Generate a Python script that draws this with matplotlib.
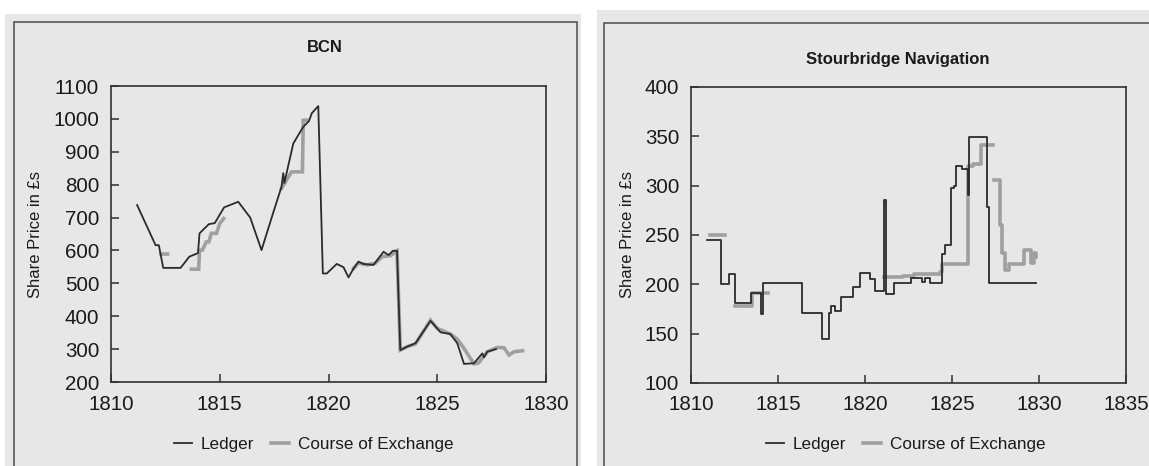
import numpy as np
import matplotlib
matplotlib.use("Agg")
import matplotlib.pyplot as plt
from matplotlib.patches import Rectangle
from matplotlib.lines import Line2D

nan = np.nan

# ---------------- BCN data ----------------
bcn_ledger_years = [1811.2, 1812.05, 1812.2, 1812.4, 1813.2, 1813.6, 1814.0, 1814.07,
                    1814.5, 1814.77, 1815.2, 1815.85, 1816.4, 1816.92, 1817.46, 1817.84,
                    1817.92, 1817.97, 1818.38, 1818.84, 1819.1, 1819.23, 1819.53, 1819.74,
                    1819.92, 1820.38, 1820.69, 1820.92, 1821.15, 1821.38, 1821.6, 1822.07,
                    1822.53, 1822.76, 1822.96, 1823.15, 1823.3, 1823.6, 1824.0, 1824.69,
                    1825.15, 1825.6, 1825.92, 1826.23, 1826.69, 1827.07, 1827.15, 1827.3,
                    1827.7]
bcn_ledger_values = [738, 616, 616, 547, 547, 581, 592, 652,
                     680, 683, 731, 748, 700, 601, 715, 794,
                     835, 805, 925, 976, 993, 1017, 1039, 530,
                     530, 559, 549, 518, 545, 566, 559, 556,
                     596, 586, 599, 599, 297, 307, 318, 386,
                     351, 346, 318, 255, 257, 287, 275, 292,
                     300]

bcn_course_years = [1812.3, 1812.6, nan,
                    1813.7, 1814.03, 1814.07, 1814.2, 1814.38, 1814.5, 1814.61, 1814.85,
                    1815.0, 1815.18, nan,
                    1817.84, 1818.07, 1818.3, 1818.8, 1818.84, 1819.0, nan,
                    1821.15, 1821.38, 1821.77, 1822.15, 1822.46, 1822.84, 1823.15, 1823.3,
                    1823.6, 1824.0, 1824.69, 1825.0, 1825.6, 1825.92, 1826.2, 1826.69,
                    1826.9, 1827.3, 1827.76, 1828.07, 1828.3, 1828.53, 1828.92]
bcn_course_values = [589, 589, nan,
                     543, 543, 601, 601, 626, 626, 652, 652,
                     682, 697, nan,
                     789, 814, 839, 839, 996, 996, nan,
                     545, 562, 556, 561, 581, 584, 599, 297,
                     307, 316, 388, 363, 346, 330, 305, 255,
                     258, 292, 305, 304, 282, 292, 295]

# ---------------- Stourbridge data (step changes) ----------------
stour_ledger_years = [1810.9, 1811.75, 1812.2, 1812.52, 1813.47, 1814.02, 1814.12, 1816.36,
                      1817.5, 1817.92, 1818.05, 1818.3, 1818.6, 1819.3, 1819.72, 1820.28,
                      1820.6, 1821.08, 1821.2, 1821.68, 1822.66, 1823.3, 1823.45, 1823.72,
                      1824.4, 1824.6, 1824.95, 1825.1, 1825.25, 1825.6, 1825.9, 1826.0,
                      1827.0, 1827.15, 1829.85]
stour_ledger_values = [245, 200, 210, 181, 191, 170, 201, 171,
                       145, 171, 178, 173, 187, 197, 211, 205,
                       193, 285, 190, 201, 206, 202, 206, 201,
                       231, 240, 298, 300, 320, 317, 291, 349,
                       278, 201, 201]

stour_course_years = [1811.1, 1811.96,
                      1812.54, 1813.53, 1814.45,
                      1821.1, 1822.2, 1822.8, 1823.6, 1824.3, 1824.45, 1825.93, 1826.2,
                      1826.66, 1827.37,
                      1827.43, 1827.78, 1827.9, 1828.05, 1828.3, 1829.15, 1829.55, 1829.7,
                      1829.85]
stour_course_values = [250, nan,
                       178, 191, nan,
                       207, 208, 210, 210, 212, 221, 320, 322,
                       341, nan,
                       306, 260, 232, 215, 221, 235, 222, 232,
                       228]

# ---------------- style ----------------
W, H = 1149, 466
plt.rcParams['font.family'] = ['Liberation Sans', 'DejaVu Sans']
PAPER = '#e7e7e7'
FRAME = '#4a4a4a'
LEDGER_C = '#2b2b2b'
COURSE_C = '#a0a0a0'

fig = plt.figure(figsize=(W / 100, H / 100), dpi=100)
fig.patch.set_facecolor('white')


def fx(px):
    return px / W


def fy(py):
    return 1 - py / H


# paper panels and chart frames (drawn beneath the axes)
fig.patches.append(Rectangle((fx(5), fy(470)), fx(581) - fx(5), fy(14) - fy(470),
                             transform=fig.transFigure, facecolor=PAPER, edgecolor='none', zorder=-3))
fig.patches.append(Rectangle((fx(597), fy(470)), fx(1152) - fx(597), fy(10) - fy(470),
                             transform=fig.transFigure, facecolor=PAPER, edgecolor='none', zorder=-3))
fig.patches.append(Rectangle((fx(14), fy(480)), fx(577) - fx(14), fy(22) - fy(480),
                             transform=fig.transFigure, facecolor='none', edgecolor=FRAME,
                             linewidth=1.1, zorder=-2))
fig.patches.append(Rectangle((fx(604), fy(480)), fx(1160) - fx(604), fy(23) - fy(480),
                             transform=fig.transFigure, facecolor='none', edgecolor=FRAME,
                             linewidth=1.1, zorder=-2))

ax1 = fig.add_axes([fx(111), fy(382), fx(546) - fx(111), fy(86) - fy(382)])
ax2 = fig.add_axes([fx(691), fy(383), fx(1126) - fx(691), fy(87) - fy(383)])

for ax in (ax1, ax2):
    ax.set_facecolor(PAPER)
    for s in ax.spines.values():
        s.set_color('#303030')
        s.set_linewidth(1.2)
    ax.tick_params(direction='in', length=6, width=1.1, color='#303030',
                   labelsize=14.8, labelcolor='#1a1a1a', pad=9)
    ax.tick_params(axis='y', pad=8.5)

# BCN
ax1.plot(bcn_course_years, bcn_course_values, color=COURSE_C, lw=2.6, zorder=2,
         solid_joinstyle='miter')
ax1.plot(bcn_ledger_years, bcn_ledger_values, color=LEDGER_C, lw=1.3, zorder=3)
ax1.set_xlim(1810, 1830)
ax1.set_ylim(200, 1100)
ax1.set_xticks(np.arange(1810, 1831, 5))
ax1.set_yticks(np.arange(200, 1101, 100))

# Stourbridge
ax2.plot(stour_course_years, stour_course_values, color=COURSE_C, lw=2.6, zorder=2,
         drawstyle='steps-post')
ax2.plot(stour_ledger_years, stour_ledger_values, color=LEDGER_C, lw=1.3, zorder=3,
         drawstyle='steps-post')
ax2.set_xlim(1810, 1835)
ax2.set_ylim(100, 400)
ax2.set_xticks(np.arange(1810, 1836, 5))
ax2.set_yticks(np.arange(100, 401, 50))

# titles and labels
fig.text(fx(325), fy(48), 'BCN', ha='center', va='center', fontsize=12,
         fontweight='bold', color='#1a1a1a')
fig.text(fx(898), fy(60), 'Stourbridge Navigation', ha='center', va='center',
         fontsize=12, fontweight='bold', color='#1a1a1a')
fig.text(fx(36), fy(234), 'Share Price in £s', rotation=90, ha='center', va='center',
         fontsize=12, color='#1a1a1a')
fig.text(fx(627), fy(235), 'Share Price in £s', rotation=90, ha='center', va='center',
         fontsize=12, color='#1a1a1a')

handles = [Line2D([], [], color=LEDGER_C, lw=1.3), Line2D([], [], color=COURSE_C, lw=2.6)]
labels = ['Ledger', 'Course of Exchange']
for cx in (314, 906):
    fig.legend(handles, labels, loc='center', bbox_to_anchor=(fx(cx), fy(444)),
               ncol=2, frameon=False, fontsize=12.3, handlelength=1.05,
               handletextpad=0.5, columnspacing=1.0, labelcolor='#1a1a1a')

fig.savefig('out.png', dpi=100, facecolor='white')
